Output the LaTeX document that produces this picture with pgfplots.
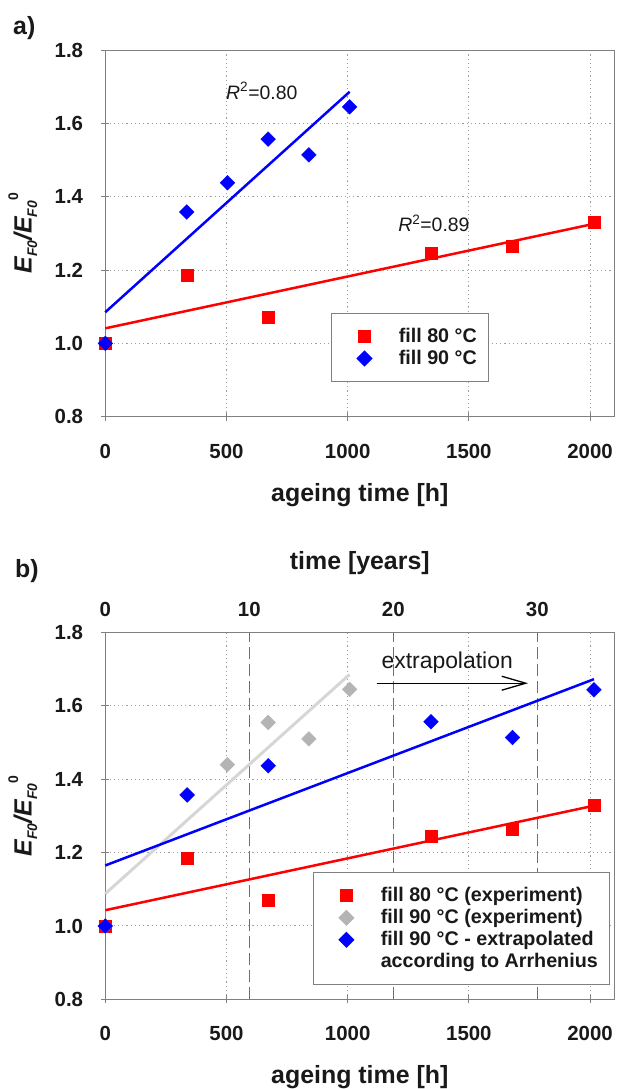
\documentclass[border=0pt]{standalone}
\usepackage{fontspec}
\setmainfont{Liberation Sans}
\usepackage{pgfplots}
\pgfplotsset{compat=1.18}
\usetikzlibrary{arrows.meta}

\definecolor{myred}{RGB}{255,0,0}
\definecolor{myblue}{RGB}{0,0,255}
\definecolor{mygray}{RGB}{180,180,180}
\definecolor{lightline}{RGB}{214,214,214}
\definecolor{gridgray}{RGB}{160,160,160}
\definecolor{axisgray}{RGB}{128,128,128}
\definecolor{dashgray}{RGB}{110,110,110}

\newcommand{\ylab}{{\fontsize{25}{25}\selectfont\bfseries\itshape E\raisebox{-0.22em}{\fontsize{14}{14}\selectfont F0}/E\raisebox{-0.22em}{\fontsize{14}{14}\selectfont F0}\raisebox{0.55em}{\fontsize{14}{14}\selectfont\upshape 0}}}

\pgfplotsset{
  base/.style={
    scale only axis, width=509bp, height=366.7bp,
    xmin=0, xmax=2100, ymin=0.8, ymax=1.8,
    xtick={0,500,1000,1500,2000},
    xticklabels={0,500,1000,1500,2000},
    ytick={0.8,1.0,1.2,1.4,1.6,1.8},
    yticklabels={0.8,1.0,1.2,1.4,1.6,1.8},
    xtick pos=bottom, ytick pos=left,
    grid=major,
    major grid style={gridgray, line width=1bp, dash pattern=on 1.2bp off 3bp},
    axis line style={axisgray, line width=1bp},
    tick style={axisgray, line width=1bp},
    tick align=center, major tick length=8bp,
    /pgf/number format/assume math mode=true,
    tick label style={font=\fontsize{20.5}{20.5}\selectfont\bfseries, text=black!90},
    xticklabel style={anchor=base, yshift=-37.3bp, inner sep=0pt},
    yticklabel style={anchor=east, xshift=-18bp, inner sep=0pt},
    xlabel={ageing time [h]},
    every axis x label/.style={at={(axis description cs:0.5,0)}, anchor=base, yshift=-84.3bp, inner sep=0pt, font=\fontsize{25}{25}\selectfont\bfseries, text=black!90},
    ylabel={\ylab},
    every axis y label/.style={at={(axis description cs:0,0.5)}, xshift=-73.6bp, rotate=90, anchor=base, inner sep=0pt, text=black!90},
    clip=false,
    legend cell align=left,
    legend image code/.code={\path[draw=none,fill=none] (0bp,0bp) -- (55.8bp,0bp); \draw[##1] plot coordinates {(21.5bp,0bp)};},
    legend style={draw=axisgray, line width=1bp, fill=white,
      font=\fontsize{19.8}{19.8}\selectfont\bfseries, text=black!90,
      inner xsep=11.5bp, inner ysep=15bp, row sep=6bp, column sep=0pt,
      nodes={inner sep=0pt, text height=14bp, text depth=2bp},
      cells={anchor=west}},
  },
  sq/.style={only marks, mark=square*, mark size=6bp, color=myred},
  dm/.style={only marks, mark=square*, mark size=5.2bp, mark options={rotate=45}},
}

\begin{document}
\begin{tikzpicture}[x=1bp,y=1bp]

% ---------------- panel a ----------------
\begin{axis}[base, at={(105.3bp,-416.7bp)}, anchor=south west,
  legend style={at={(0.4434,0.2828)}, anchor=north west}]
\addplot[myred, line width=2.5bp, forget plot] coordinates {(0,1.041) (2016,1.326)};
\addplot[myblue, line width=2.5bp, forget plot] coordinates {(0,1.085) (1008,1.686)};
\addplot[sq] coordinates {(0,1.000) (336,1.185) (672,1.071) (1344,1.246) (1680,1.265) (2016,1.330)};
\addlegendentry{fill 80 °C}
\addplot[dm, color=myblue] coordinates {(0,1.000) (336,1.358) (504,1.438) (672,1.557) (840,1.514) (1008,1.645)};
\addlegendentry{fill 90 °C}
\node[anchor=base west, inner sep=0pt, font=\fontsize{19.5}{19.5}\selectfont, text=black!90] at (axis cs:498,1.666) {\textit{R}\textsuperscript{2}=0.80};
\node[anchor=base west, inner sep=0pt, font=\fontsize{19.5}{19.5}\selectfont, text=black!90] at (axis cs:1208,1.305) {\textit{R}\textsuperscript{2}=0.89};
\end{axis}

% ---------------- panel b: years axis ----------------
\begin{axis}[scale only axis, width=509bp, height=366.7bp,
  at={(105.3bp,-999.3bp)}, anchor=south west,
  xmin=0, xmax=35.35, ymin=0.8, ymax=1.8,
  axis x line*=top, axis y line=none,
  xtick={0,10,20,30}, ytick=\empty,
  xmajorgrids,
  major grid style={dashgray, line width=1bp, dash pattern=on 12bp off 5bp},
  axis line style={black!75, line width=1bp},
  major tick length=0pt,
  /pgf/number format/assume math mode=true,
  tick label style={font=\fontsize{20.5}{20.5}\selectfont\bfseries, text=black!90},
  xticklabel style={anchor=base, yshift=16bp, inner sep=0pt},
  xlabel={time [years]},
  every axis x label/.style={at={(axis description cs:0.5,1)}, anchor=base, yshift=62.7bp, inner sep=0pt, font=\fontsize{25}{25}\selectfont\bfseries, text=black!90}]
\addplot[draw=none] coordinates {(0,1.0) (30,1.0)};
\end{axis}

% ---------------- panel b: main axis ----------------
\begin{axis}[base, at={(105.3bp,-999.3bp)}, anchor=south west,
  legend style={at={(0.408,0.3463)}, anchor=north west}]
\addplot[lightline, line width=3bp, forget plot] coordinates {(0,1.088) (1008,1.686)};
\addplot[myred, line width=2.5bp, forget plot] coordinates {(0,1.043) (2016,1.328)};
\addplot[myblue, line width=2.5bp, forget plot] coordinates {(0,1.165) (2016,1.673)};
\addplot[black, line width=1.3bp, -{Straight Barb[length=24bp, width=14bp]}, forget plot] coordinates {(1119,1.662) (1744,1.662)};
\addplot[sq] coordinates {(0,1.000) (336,1.185) (672,1.071) (1344,1.246) (1680,1.265) (2016,1.330)};
\addlegendentry{fill 80 °C (experiment)}
\addplot[dm, color=mygray] coordinates {(0,1.000) (336,1.358) (504,1.440) (672,1.555) (840,1.510) (1008,1.645)};
\addlegendentry{fill 90 °C (experiment)}
\addplot[dm, color=myblue] coordinates {(0,1.000) (338,1.357) (672,1.437) (1344,1.557) (1680,1.514) (2016,1.644)};
\addlegendentry{fill 90 °C - extrapolated}
\addlegendimage{empty legend}
\addlegendentry{according to Arrhenius}
\node[anchor=base west, inner sep=0pt, font=\fontsize{23}{23}\selectfont, text=black!90] at (axis cs:1139,1.701) {extrapolation};
\end{axis}

\node[anchor=base west, inner sep=0pt, font=\fontsize{25}{25}\selectfont\bfseries, text=black!90] at (13bp,-34bp) {a)};
\node[anchor=base west, inner sep=0pt, font=\fontsize{25}{25}\selectfont\bfseries, text=black!90] at (15bp,-577.5bp) {b)};

\pgfresetboundingbox
\path (0,0) rectangle (618bp,-1089bp);
\end{tikzpicture}
\end{document}
